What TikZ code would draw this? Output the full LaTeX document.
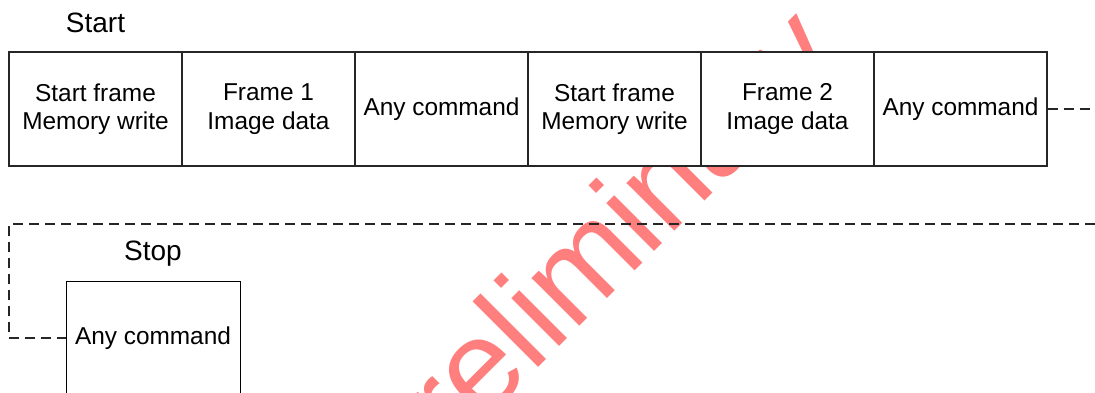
\documentclass[tikz,border=0pt]{standalone}
\usepackage{fontspec}
\setmainfont{Liberation Sans}
\begin{document}
\begin{tikzpicture}[x=1pt,y=-1pt,
  cell/.style={draw=black!85, fill=white, line width=1.3pt, minimum width=173pt, minimum height=114pt,
    inner sep=0pt, align=center, font=\fontsize{24.4}{28.5}\selectfont},
  stopcell/.style={draw=black, fill=white, line width=0.9pt, minimum width=174pt, minimum height=114pt,
    inner sep=0pt, align=center, font=\fontsize{24.4}{28.5}\selectfont},
  title/.style={font=\fontsize{28}{30}\selectfont, inner sep=0pt},
  link/.style={draw=black!85, line width=1.1pt, dash pattern=on 10pt off 6pt}]
\useasboundingbox (0,0) rectangle (1095,392);
\begin{scope}
\clip (0,0) rectangle (1095,392);
\node[rotate=45, anchor=base west, inner sep=0pt, text=red, text opacity=0.5,
  font=\fontsize{128}{128}\selectfont] (wm) at (392,514) {Preliminary};
\end{scope}
\node[title] (start) at (95.5,22.5) {Start};
\node[cell] (b1) at (95.5,109) {Start frame\\Memory write};
\node[cell] (b2) at (268.5,109) {Frame 1\\Image data};
\node[cell] (b3) at (441.5,109) {Any command};
\node[cell] (b4) at (614.5,109) {Start frame\\Memory write};
\node[cell] (b5) at (787.5,109) {Frame 2\\Image data};
\node[cell] (b6) at (960.5,109) {Any command};
\begin{scope}
\clip (0,0) rectangle (1095,392);
\node[stopcell] (s) at (153,338) {Any command};
\end{scope}
\node[title] (stop) at (153,254) {Stop};
\coordinate (e1) at (1095,109);
\coordinate (r) at (1095,224);
\coordinate (l) at (9,224);
\draw[link] (b6.east) -- (e1);
\draw[link] (r) -- (l) |- (s.west);
\end{tikzpicture}
\end{document}
